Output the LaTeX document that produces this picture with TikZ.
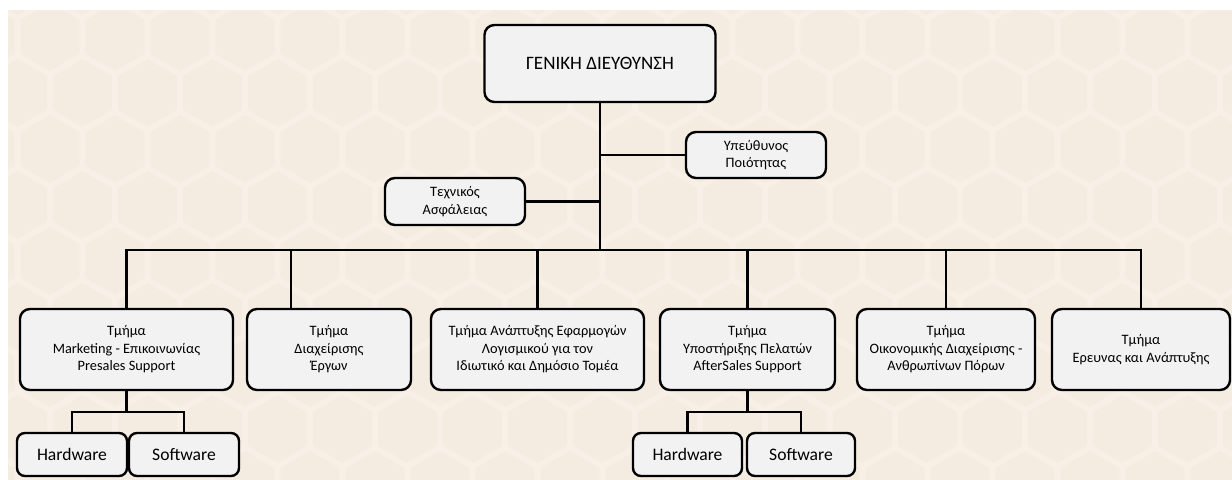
\documentclass[tikz,border=0pt]{standalone}
\usepackage{fontspec}
\setmainfont{Carlito}
\usepackage{tikz}
\usetikzlibrary{calc}
\definecolor{paper}{HTML}{F4EBE1}
\definecolor{hexline}{HTML}{F8F0E6}
\definecolor{boxfill}{HTML}{F2F2F2}

\begin{document}
\begin{tikzpicture}[x=0.025cm, y=-0.025cm,
        box/.style={draw=black, line width=1.7pt, fill=boxfill, rounded corners=0.25cm,
            align=center, inner sep=0pt, text=black, font=\fontsize{10.2}{12.4}\selectfont},
        dept/.style={box, minimum height=2.025cm},
        leaf/.style={box, minimum height=1.075cm, minimum width=2.75cm, rounded corners=0.2cm,
            font=\fontsize{12.5}{15}\selectfont},
        conn/.style={line width=1.7pt}]
        \fill [white] (0, 0) rectangle (1232, 480);
        \fill [paper] (8, 10) rectangle (1232, 480);
        \begin{scope}
            \clip (8, 10) rectangle (1232, 480);
            \foreach \j in {0,...,8} {
                \foreach \i in {-1,...,19} {
                    \pgfmathsetmacro{\hx}{50+65*\i+32.5*mod(\j,2)}
                    \pgfmathsetmacro{\hy}{37+56*\j}
                    \draw [hexline, line width=4pt] (\hx, \hy) +(30:37.5) -- +(90:37.5) -- +(150:37.5)
                        -- +(210:37.5) -- +(270:37.5) -- +(330:37.5) -- cycle;
                }
            }
        \end{scope}

        \node [box, minimum width=5.775cm, minimum height=1.925cm, font=\fontsize{13.5}{15}\selectfont] (gd) at (600, 63.5) {ΓΕΝΙΚΗ ΔΙΕΥΘΥΝΣΗ};
        \node [box, minimum width=3.5cm, minimum height=1.15cm] (qual) at (756, 155) {Υπεύθυνος\\Ποιότητας};
        \node [box, minimum width=3.5cm, minimum height=1.175cm] (tech) at (455, 201.5) {Τεχνικός\\Ασφάλειας};

        \node [dept, minimum width=5.325cm] (dep1) at (126.5, 349.5) {Τμήμα\\Marketing - Επικοινωνίας\\Presales Support};
        \node [dept, minimum width=4.1cm] (dep2) at (329, 349.5) {Τμήμα\\Διαχείρισης\\Έργων};
        \node [dept, minimum width=5.325cm] (dep3) at (537.5, 349.5) {Τμήμα Ανάπτυξης Εφαρμογών\\Λογισμικού για τον\\Ιδιωτικό και Δημόσιο Τομέα};
        \node [dept, minimum width=4.375cm] (dep4) at (747.5, 349.5) {Τμήμα\\Υποστήριξης Πελατών\\AfterSales Support};
        \node [dept, minimum width=4.45cm] (dep5) at (946, 349.5) {Τμήμα\\Οικονομικής Διαχείρισης -\\Ανθρωπίνων Πόρων};
        \node [dept, minimum width=4.45cm] (dep6) at (1141, 349.5) {Τμήμα\\Ερευνας και Ανάπτυξης};

        \node [leaf] (hw1) at (72, 454.5) {Hardware};
        \node [leaf] (sw1) at (184, 454.5) {Software};
        \node [leaf, minimum width=2.725cm] (hw2) at (687.5, 454.5) {Hardware};
        \node [leaf, minimum width=2.7cm] (sw2) at (801, 454.5) {Software};

        \coordinate (bus) at (600, 250);
        \coordinate (drop2) at (291, 250);
        \draw [conn] (gd.south) -- (bus);
        \draw [conn] (tech.east) -- (tech.east -| gd.south);
        \draw [conn] (qual.west) -- (qual.west -| gd.south);
        \draw [conn] (dep1.north) |- (bus) -| (dep6.north);
        \draw [conn] (drop2) -- (drop2 |- dep2.north);
        \foreach \d in {dep3, dep4, dep5}
            \draw [conn] (\d.north) -- (\d.north |- bus);
        \foreach \d/\h/\s in {dep1/hw1/sw1, dep4/hw2/sw2} {
            \draw [conn] (\d.south) -- ++(0, 20.5) coordinate (fork);
            \draw [conn] (\h.north) |- (fork) -| (\s.north);
        }
    \end{tikzpicture}
\end{document}
